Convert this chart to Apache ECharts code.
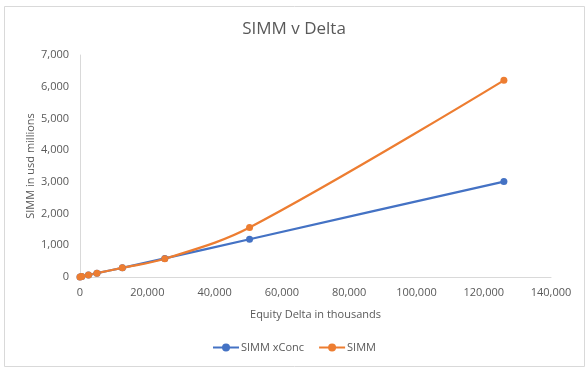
<!DOCTYPE html>
<html>
<head>
<meta charset="utf-8">
<script src="https://cdn.jsdelivr.net/npm/echarts@6/dist/echarts.min.js"></script>
<style>
html,body{margin:0;padding:0;background:#fff;}
#c{width:588px;height:370px;}
</style>
</head>
<body>
<div id="c"></div>
<script>
var deltaThousands = [0, 504, 2520, 5040, 12600, 25200, 50400, 126000];
var simmXConc = [0, 12, 60, 120, 290, 585, 1190, 3010];
var simm = [0, 12, 60, 120, 290, 575, 1560, 6200];
var seriesNames = ['SIMM xConc', 'SIMM'];
var xTicks = {min: 0, max: 140000, interval: 20000};
var yTicks = {min: 0, max: 7000, interval: 1000};

function pairs(xs, ys) { return xs.map(function (x, i) { return [x, ys[i]]; }); }
function fmt(v) { return v.toLocaleString('en-US'); }

var font = '"Open Sans", "Liberation Sans", sans-serif';
var chart = echarts.init(document.getElementById('c'), null, {renderer: 'canvas'});
chart.setOption({
  animation: false,
  backgroundColor: '#ffffff',
  graphic: [{
    type: 'rect', shape: {x: 4.5, y: 6.5, width: 580, height: 360},
    style: {fill: 'none', stroke: '#d9d9d9', lineWidth: 1}, silent: true
  }],
  title: {
    text: 'SIMM v Delta', left: 'center', top: 16,
    textStyle: {fontFamily: font, fontSize: 17, fontWeight: 'normal', color: '#595959'}
  },
  legend: {
    bottom: 12, left: 'center', itemGap: 14, itemWidth: 26, itemHeight: 10,
    textStyle: {fontFamily: font, fontSize: 11, color: '#595959', padding: [0, 0, 0, -3]},
    data: seriesNames
  },
  grid: {left: 80, right: 37, top: 55, bottom: 93},
  xAxis: {
    type: 'value', min: xTicks.min, max: xTicks.max, interval: xTicks.interval,
    name: 'Equity Delta in thousands', nameLocation: 'middle', nameGap: 32,
    nameMoveOverlap: false,
    nameTextStyle: {fontFamily: font, fontSize: 11, color: '#595959'},
    axisLine: {show: true, lineStyle: {color: '#d9d9d9', width: 1}},
    axisTick: {show: false},
    splitLine: {show: false},
    axisLabel: {fontFamily: font, fontSize: 11, color: '#595959', margin: 10, formatter: fmt}
  },
  yAxis: {
    type: 'value', min: yTicks.min, max: yTicks.max, interval: yTicks.interval,
    name: 'SIMM in usd millions', nameLocation: 'middle', nameGap: 44, nameRotate: 90,
    nameMoveOverlap: false,
    nameTextStyle: {fontFamily: font, fontSize: 11, color: '#595959'},
    axisLine: {show: true, lineStyle: {color: '#d9d9d9', width: 1}},
    axisTick: {show: false},
    splitLine: {show: false},
    axisLabel: {fontFamily: font, fontSize: 11, color: '#595959', margin: 11, formatter: fmt}
  },
  series: [{
    name: seriesNames[0], type: 'line', data: pairs(deltaThousands, simmXConc),
    smooth: 0.2, symbol: 'circle', symbolSize: 7,
    itemStyle: {color: '#4472C4'}, lineStyle: {color: '#4472C4', width: 2.25}
  }, {
    name: seriesNames[1], type: 'line', data: pairs(deltaThousands, simm),
    smooth: 0.35, symbol: 'circle', symbolSize: 7,
    itemStyle: {color: '#ED7D31'}, lineStyle: {color: '#ED7D31', width: 2.25}
  }]
});
</script>
</body>
</html>
